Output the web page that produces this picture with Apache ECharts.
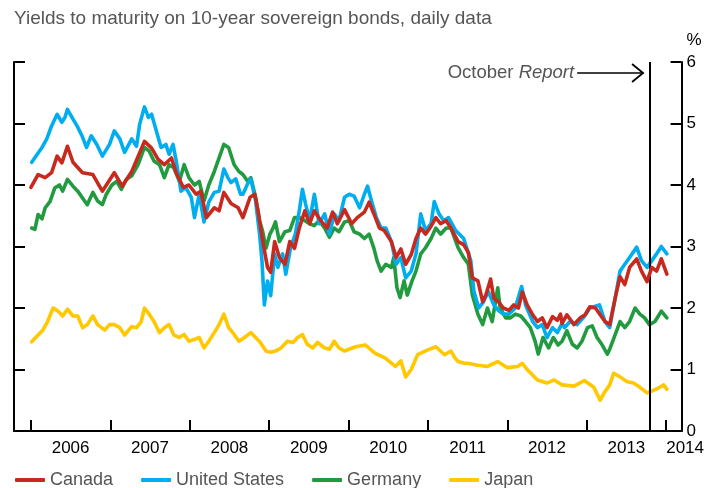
<!DOCTYPE html>
<html>
<head>
<meta charset="utf-8">
<script src="https://cdn.jsdelivr.net/npm/echarts@6/dist/echarts.min.js"></script>
<style>html,body{margin:0;padding:0;background:#fff}#c{width:707px;height:488px}</style>
</head>
<body>
<div id="c"></div>
<script>
// ---- data: [decimal year, yield %] ----
const canada = [[2006.00,3.96],[2006.09,4.17],[2006.18,4.12],[2006.26,4.2],[2006.33,4.47],[2006.39,4.36],[2006.46,4.63],[2006.53,4.37],[2006.65,4.2],[2006.78,4.17],[2006.90,3.9],[2007.05,4.2],[2007.15,3.98],[2007.27,4.22],[2007.43,4.71],[2007.52,4.6],[2007.60,4.42],[2007.68,4.33],[2007.77,4.44],[2007.83,4.2],[2007.92,3.96],[2007.99,4.0],[2008.08,3.85],[2008.14,3.9],[2008.21,3.47],[2008.31,3.63],[2008.37,3.58],[2008.43,3.88],[2008.52,3.7],[2008.61,3.63],[2008.67,3.47],[2008.76,3.8],[2008.82,3.85],[2008.86,3.58],[2008.92,3.08],[2008.98,2.66],[2009.02,2.58],[2009.07,3.08],[2009.13,2.82],[2009.20,2.71],[2009.26,3.08],[2009.32,2.97],[2009.38,3.3],[2009.45,3.58],[2009.51,3.37],[2009.57,3.58],[2009.65,3.42],[2009.73,3.3],[2009.80,3.56],[2009.86,3.37],[2009.95,3.6],[2010.04,3.37],[2010.11,3.47],[2010.20,3.56],[2010.26,3.72],[2010.32,3.53],[2010.39,3.3],[2010.45,3.26],[2010.54,3.08],[2010.60,2.82],[2010.66,2.96],[2010.72,2.71],[2010.79,2.87],[2010.85,3.13],[2010.91,3.3],[2010.97,3.2],[2011.04,3.33],[2011.10,3.47],[2011.16,3.37],[2011.23,3.42],[2011.29,3.3],[2011.38,3.08],[2011.45,3.03],[2011.51,2.9],[2011.56,2.49],[2011.63,2.44],[2011.69,2.1],[2011.73,2.21],[2011.79,2.47],[2011.83,2.16],[2011.89,2.1],[2011.95,2.0],[2012.02,1.96],[2012.08,2.05],[2012.14,2.0],[2012.19,2.26],[2012.25,2.05],[2012.32,1.89],[2012.38,1.78],[2012.44,1.84],[2012.50,1.68],[2012.57,1.86],[2012.63,1.8],[2012.67,1.9],[2012.69,1.75],[2012.75,1.89],[2012.84,1.73],[2012.92,1.84],[2012.98,1.89],[2013.04,2.02],[2013.11,2.0],[2013.17,1.89],[2013.23,1.78],[2013.29,1.73],[2013.36,2.17],[2013.42,2.51],[2013.48,2.38],[2013.54,2.66],[2013.63,2.8],[2013.69,2.6],[2013.76,2.43],[2013.82,2.66],[2013.88,2.6],[2013.94,2.8],[2014.01,2.55]];
const unitedStates = [[2006.01,4.37],[2006.08,4.5],[2006.14,4.61],[2006.20,4.75],[2006.26,4.96],[2006.33,5.15],[2006.39,5.02],[2006.43,5.1],[2006.46,5.23],[2006.53,5.07],[2006.59,4.94],[2006.65,4.78],[2006.70,4.61],[2006.76,4.8],[2006.83,4.66],[2006.90,4.47],[2006.99,4.66],[2007.05,4.88],[2007.12,4.75],[2007.18,4.53],[2007.27,4.75],[2007.33,4.63],[2007.37,4.99],[2007.43,5.27],[2007.48,5.1],[2007.52,5.15],[2007.58,4.88],[2007.64,4.61],[2007.70,4.66],[2007.74,4.5],[2007.79,4.66],[2007.83,4.39],[2007.89,3.9],[2007.95,3.96],[2008.02,3.8],[2008.06,3.47],[2008.12,3.85],[2008.18,3.4],[2008.24,3.72],[2008.31,3.88],[2008.37,3.9],[2008.43,4.26],[2008.48,4.12],[2008.52,4.04],[2008.58,4.1],[2008.64,3.85],[2008.67,3.85],[2008.73,4.02],[2008.77,4.1],[2008.83,3.74],[2008.88,3.2],[2008.91,2.77],[2008.94,2.05],[2008.98,2.44],[2009.02,2.2],[2009.07,2.88],[2009.11,2.66],[2009.17,2.88],[2009.21,2.55],[2009.27,2.98],[2009.33,3.2],[2009.38,3.58],[2009.42,3.93],[2009.46,3.69],[2009.51,3.42],[2009.57,3.85],[2009.63,3.37],[2009.70,3.53],[2009.76,3.2],[2009.82,3.53],[2009.88,3.42],[2009.95,3.8],[2010.01,3.85],[2010.07,3.82],[2010.14,3.63],[2010.20,3.85],[2010.24,3.98],[2010.29,3.74],[2010.35,3.47],[2010.41,3.3],[2010.47,3.3],[2010.54,3.08],[2010.60,2.71],[2010.66,2.82],[2010.72,2.49],[2010.79,2.6],[2010.85,2.88],[2010.91,3.53],[2010.97,3.26],[2011.04,3.37],[2011.08,3.73],[2011.14,3.53],[2011.20,3.42],[2011.26,3.47],[2011.35,3.26],[2011.45,3.13],[2011.54,2.77],[2011.58,2.27],[2011.64,2.0],[2011.70,2.1],[2011.76,2.27],[2011.83,2.05],[2011.89,1.96],[2011.95,1.9],[2012.02,1.9],[2012.10,2.0],[2012.18,2.35],[2012.23,2.05],[2012.32,1.78],[2012.38,1.68],[2012.44,1.73],[2012.50,1.52],[2012.57,1.68],[2012.63,1.6],[2012.69,1.75],[2012.72,1.68],[2012.79,1.78],[2012.88,1.73],[2012.97,1.86],[2013.04,2.0],[2013.16,2.05],[2013.23,1.78],[2013.29,1.68],[2013.36,2.17],[2013.42,2.6],[2013.48,2.71],[2013.54,2.82],[2013.63,2.99],[2013.69,2.77],[2013.76,2.66],[2013.82,2.77],[2013.88,2.88],[2013.94,3.0],[2014.01,2.88]];
const germany = [[2006.01,3.3],[2006.05,3.28],[2006.09,3.52],[2006.14,3.45],[2006.18,3.63],[2006.24,3.73],[2006.30,3.95],[2006.36,4.0],[2006.40,3.9],[2006.46,4.09],[2006.53,3.98],[2006.59,3.9],[2006.65,3.79],[2006.71,3.68],[2006.78,3.88],[2006.84,3.74],[2006.90,3.68],[2006.95,3.85],[2007.02,4.0],[2007.08,4.06],[2007.14,3.93],[2007.20,4.09],[2007.27,4.15],[2007.35,4.33],[2007.43,4.61],[2007.49,4.55],[2007.55,4.39],[2007.62,4.33],[2007.68,4.12],[2007.74,4.33],[2007.80,4.28],[2007.87,4.06],[2007.93,4.33],[2007.99,4.12],[2008.06,4.0],[2008.12,4.06],[2008.18,3.74],[2008.24,4.0],[2008.31,4.22],[2008.37,4.44],[2008.43,4.66],[2008.49,4.61],[2008.56,4.33],[2008.62,4.22],[2008.67,4.17],[2008.73,4.06],[2008.77,4.12],[2008.83,3.8],[2008.88,3.42],[2008.92,3.24],[2008.96,2.97],[2009.01,3.2],[2009.05,3.3],[2009.08,3.4],[2009.13,3.08],[2009.20,3.24],[2009.26,3.26],[2009.32,3.47],[2009.38,3.47],[2009.45,3.42],[2009.51,3.37],[2009.57,3.34],[2009.63,3.42],[2009.70,3.3],[2009.76,3.15],[2009.82,3.3],[2009.88,3.24],[2009.95,3.4],[2010.01,3.42],[2010.07,3.24],[2010.14,3.2],[2010.20,3.13],[2010.26,3.2],[2010.32,2.97],[2010.36,2.77],[2010.41,2.6],[2010.47,2.71],[2010.54,2.66],[2010.57,2.82],[2010.61,2.33],[2010.65,2.17],[2010.70,2.44],[2010.74,2.21],[2010.80,2.44],[2010.85,2.6],[2010.91,2.88],[2010.97,2.98],[2011.04,3.13],[2011.10,3.3],[2011.16,3.2],[2011.23,3.3],[2011.29,3.3],[2011.38,2.98],[2011.45,2.82],[2011.51,2.71],[2011.56,2.21],[2011.63,1.9],[2011.69,1.73],[2011.75,2.0],[2011.81,1.78],[2011.88,2.33],[2011.91,2.0],[2011.98,1.84],[2012.04,1.84],[2012.10,1.9],[2012.17,1.87],[2012.23,1.78],[2012.29,1.68],[2012.35,1.46],[2012.39,1.25],[2012.45,1.52],[2012.52,1.35],[2012.58,1.52],[2012.64,1.4],[2012.69,1.46],[2012.75,1.63],[2012.82,1.41],[2012.88,1.35],[2012.94,1.46],[2013.01,1.68],[2013.07,1.71],[2013.13,1.52],[2013.19,1.41],[2013.26,1.25],[2013.29,1.33],[2013.36,1.57],[2013.42,1.78],[2013.48,1.68],[2013.54,1.78],[2013.61,2.0],[2013.67,1.9],[2013.73,1.84],[2013.79,1.73],[2013.86,1.78],[2013.94,1.95],[2014.01,1.84]];
const japan = [[2006.01,1.45],[2006.09,1.56],[2006.15,1.64],[2006.21,1.78],[2006.28,2.0],[2006.34,1.95],[2006.40,1.87],[2006.46,1.98],[2006.53,1.87],[2006.59,1.87],[2006.65,1.68],[2006.71,1.73],[2006.78,1.87],[2006.84,1.73],[2006.93,1.64],[2006.99,1.73],[2007.05,1.73],[2007.12,1.68],[2007.18,1.56],[2007.27,1.7],[2007.33,1.68],[2007.39,1.78],[2007.43,2.0],[2007.49,1.9],[2007.55,1.78],[2007.62,1.6],[2007.68,1.68],[2007.74,1.73],[2007.80,1.56],[2007.87,1.52],[2007.93,1.57],[2007.99,1.46],[2008.06,1.49],[2008.12,1.52],[2008.18,1.35],[2008.24,1.46],[2008.31,1.6],[2008.37,1.73],[2008.43,1.9],[2008.49,1.68],[2008.56,1.57],[2008.62,1.46],[2008.69,1.52],[2008.77,1.6],[2008.83,1.52],[2008.89,1.44],[2008.96,1.3],[2009.02,1.28],[2009.08,1.3],[2009.15,1.35],[2009.23,1.46],[2009.30,1.44],[2009.36,1.52],[2009.42,1.57],[2009.48,1.41],[2009.55,1.35],[2009.61,1.44],[2009.70,1.35],[2009.76,1.33],[2009.82,1.46],[2009.88,1.35],[2009.95,1.3],[2010.09,1.37],[2010.21,1.4],[2010.34,1.26],[2010.46,1.19],[2010.59,1.05],[2010.66,1.14],[2010.72,0.88],[2010.79,1.0],[2010.87,1.24],[2011.00,1.32],[2011.10,1.37],[2011.21,1.24],[2011.29,1.3],[2011.34,1.19],[2011.38,1.13],[2011.46,1.1],[2011.50,1.1],[2011.63,1.07],[2011.75,1.05],[2011.88,1.13],[2012.00,1.03],[2012.13,1.05],[2012.19,1.1],[2012.25,1.0],[2012.38,0.83],[2012.50,0.78],[2012.59,0.83],[2012.69,0.75],[2012.84,0.73],[2012.97,0.82],[2013.09,0.71],[2013.17,0.5],[2013.22,0.62],[2013.29,0.75],[2013.34,0.94],[2013.42,0.88],[2013.51,0.8],[2013.59,0.78],[2013.67,0.71],[2013.76,0.62],[2013.82,0.65],[2013.92,0.71],[2013.97,0.75],[2014.01,0.68]];

const seriesNames = ['Canada', 'United States', 'Germany', 'Japan'];
const yearTicks = [2006, 2007, 2008, 2009, 2010, 2011, 2012, 2013, 2014];
const yearLabels = ['2006', '2007', '2008', '2009', '2010', '2011', '2012', '2013', '2014'];
const yTicks = [0, 1, 2, 3, 4, 5, 6];
const reportDate = 2013.8;          // October Report
const reportArrow = [2012.88, 5.82, 2013.71]; // start year, level, end year
const titleText = 'Yields to maturity on 10-year sovereign bonds, daily data';

const FONT = '"Liberation Sans", Arial, Helvetica, sans-serif';
const colors = {Canada: '#c8291f', 'United States': '#00aeef', Germany: '#229a3f', Japan: '#ffc800'};

// label positions: mid-year for full years, last label at its tick
const labelPos = yearTicks.slice(0, -1).map(y => y + 0.5).concat([yearTicks[yearTicks.length - 1]]);

const chart = echarts.init(document.getElementById('c'), null, {renderer: 'canvas'});

function lineSeries(name, data, z) {
  return {
    name, type: 'line', data, showSymbol: false, symbol: 'none', z,
    lineStyle: {color: colors[name], width: 3.6, join: 'round', cap: 'round'},
    itemStyle: {color: colors[name]},
    emphasis: {disabled: true}
  };
}

const axisCommon = {
  type: 'value', min: 0, max: 6, interval: 1,
  axisLine: {show: true, lineStyle: {color: '#000', width: 2}},
  axisTick: {show: true, inside: true, length: 11, lineStyle: {color: '#000', width: 2}},
  splitLine: {show: false}
};

chart.setOption({
  animation: false,
  backgroundColor: '#fff',
  title: {
    text: titleText, left: 9, top: 4,
    textStyle: {fontFamily: FONT, fontSize: 19, fontWeight: 'normal', color: '#555'}
  },
  grid: {left: 14, right: 22, top: 62, bottom: 57},
  legend: {
    data: seriesNames, left: 10, top: 466,
    icon: 'roundRect', itemWidth: 30, itemHeight: 4, itemGap: 28,
    textStyle: {fontFamily: FONT, fontSize: 18, color: '#555'},
    selectedMode: false
  },
  xAxis: {
    type: 'value', min: 2005.787, max: 2014.195,
    axisLine: {show: true, lineStyle: {color: '#000', width: 2}},
    axisTick: {show: true, inside: true, length: 11, customValues: yearTicks, lineStyle: {color: '#000', width: 2}},
    axisLabel: {
      customValues: labelPos, margin: 9, color: '#000', fontFamily: FONT, fontSize: 17,
      formatter: function (v) {
        const i = labelPos.findIndex(p => Math.abs(p - v) < 1e-6);
        if (i === labelPos.length - 1) return '{r|' + yearLabels[i] + '}';
        return i >= 0 ? yearLabels[i] : '';
      },
      rich: {r: {fontFamily: FONT, fontSize: 17, color: '#000', padding: [0, 0, 0, 38]}}
    },
    splitLine: {show: false}
  },
  yAxis: [
    Object.assign({}, axisCommon, {position: 'left', axisLabel: {show: false}}),
    Object.assign({}, axisCommon, {
      position: 'right',
      axisLabel: {show: true, margin: 5, color: '#000', fontFamily: FONT, fontSize: 17,
        formatter: v => String(yTicks[yTicks.indexOf(v)])},
      name: '%', nameLocation: 'end', nameGap: 13,
      nameTextStyle: {fontFamily: FONT, fontSize: 17, color: '#000', align: 'left', padding: [0, 0, 0, 5]}
    })
  ],
  series: [
    lineSeries('Japan', japan, 2),
    lineSeries('Germany', germany, 3),
    lineSeries('United States', unitedStates, 4),
    Object.assign(lineSeries('Canada', canada, 5), {
      markLine: {
        silent: true, symbol: 'none', animation: false,
        label: {show: false},
        lineStyle: {color: '#000', width: 2, type: 'solid'},
        emphasis: {disabled: true},
        data: [{xAxis: reportDate}]
      }
    }),
    {
      type: 'custom', name: 'reportArrow', z: 10, silent: true,
      data: [reportArrow],
      encode: {x: [0, 2], y: 1},
      renderItem: function (params, api) {
        const p0 = api.coord([api.value(0), api.value(1)]);
        const p1 = api.coord([api.value(2), api.value(1)]);
        return {
          type: 'group',
          children: [
            {type: 'line', shape: {x1: p0[0], y1: p0[1], x2: p1[0], y2: p1[1]},
              style: {stroke: '#000', lineWidth: 1.6}},
            {type: 'polyline', shape: {points: [[p1[0] - 11, p1[1] - 9], [p1[0], p1[1]], [p1[0] - 11, p1[1] + 9]]},
              style: {stroke: '#000', fill: null, lineWidth: 1.8}},
            {type: 'text', x: p0[0] - 3, y: p0[1],
              style: {
                text: '{a|October }{b|Report}', align: 'right', verticalAlign: 'middle',
                rich: {
                  a: {fontFamily: FONT, fontSize: 18.5, fill: '#555'},
                  b: {fontFamily: FONT, fontSize: 18.5, fill: '#555', fontStyle: 'italic'}
                }
              }}
          ]
        };
      }
    }
  ]
});
</script>
</body>
</html>
